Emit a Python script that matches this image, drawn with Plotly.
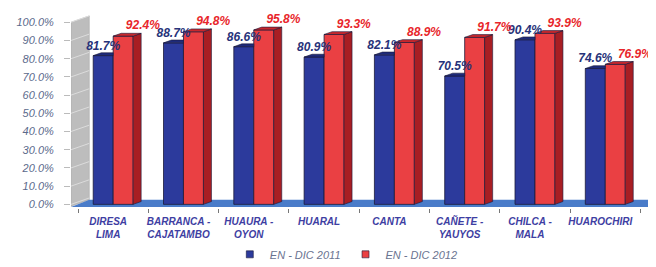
import plotly.graph_objects as go

# ---------------- data ----------------
categories = ["DIRESA<br>LIMA", "BARRANCA -<br>CAJATAMBO", "HUAURA -<br>OYON", "HUARAL",
              "CANTA", "CAÑETE -<br>YAUYOS", "CHILCA -<br>MALA", "HUAROCHIRI"]
series_2011 = [81.7, 88.7, 86.6, 80.9, 82.1, 70.5, 90.4, 74.6]
series_2012 = [92.4, 94.8, 95.8, 93.3, 88.9, 91.7, 93.9, 76.9]
series_names = ["EN - DIC 2011", "EN - DIC 2012"]
y_tick_values = [0, 10, 20, 30, 40, 50, 60, 70, 80, 90, 100]
y_tick_labels = [f"{v:.1f}%" for v in y_tick_values]

# ---------------- style / geometry ----------------
FONT = "Liberation Sans"
BW = 0.284        # bar width (x units)
DX = 0.114        # 3D depth, horizontal
DY = 1.55         # 3D depth, vertical
BLUE = "#2C3A9C"
BLUE_TOP = "#1E2A7A"
RED = "#EA4043"
RED_SIDE = "#A81E23"
RED_TOP = "#C8282D"
EDGE = "#1A1A3A"
X0, X1 = -0.6, 7.75
WALL_W = 0.26
WALL_DY = 3.5

idx = list(range(len(categories)))
blue_x = [i - BW / 2 for i in idx]
red_x = [i + BW / 2 for i in idx]

fig = go.Figure()

# front faces (bars)
fig.add_trace(go.Bar(x=blue_x, y=series_2011, width=BW, marker=dict(color=BLUE, line=dict(color=EDGE, width=0.8)),
                     showlegend=False, hoverinfo="skip"))
fig.add_trace(go.Bar(x=red_x, y=series_2012, width=BW, marker=dict(color=RED, line=dict(color=EDGE, width=0.8)),
                     showlegend=False, hoverinfo="skip"))

# blue tops (clipped at the red bar front)
bx, by = [], []
for xc, v in zip(blue_x, series_2011):
    xl, xr = xc - BW / 2, xc + BW / 2
    bx += [xl, xl + DX, xr, xr, xl, None]
    by += [v, v + DY, v + DY, v, v, None]
fig.add_trace(go.Scatter(x=bx, y=by, mode="lines", fill="toself", fillcolor=BLUE_TOP,
                         line=dict(color=EDGE, width=0.6), showlegend=False, hoverinfo="skip"))

# red sides and tops
sx, sy, tx, ty = [], [], [], []
for xc, v in zip(red_x, series_2012):
    xl, xr = xc - BW / 2, xc + BW / 2
    sx += [xr, xr + DX, xr + DX, xr, xr, None]
    sy += [0, DY, v + DY, v, 0, None]
    tx += [xl, xl + DX, xr + DX, xr, xl, None]
    ty += [v, v + DY, v + DY, v, v, None]
fig.add_trace(go.Scatter(x=sx, y=sy, mode="lines", fill="toself", fillcolor=RED_SIDE,
                         line=dict(color=EDGE, width=0.6), showlegend=False, hoverinfo="skip"))
fig.add_trace(go.Scatter(x=tx, y=ty, mode="lines", fill="toself", fillcolor=RED_TOP,
                         line=dict(color=EDGE, width=0.6), showlegend=False, hoverinfo="skip"))

# data labels
fig.add_trace(go.Scatter(x=blue_x, y=[v + 5 for v in series_2011], mode="text",
                         text=[f"{v:.1f}%" for v in series_2011],
                         textfont=dict(family=FONT, size=12, color="#27337A", weight="bold", style="italic"),
                         cliponaxis=False, showlegend=False, hoverinfo="skip"))
fig.add_trace(go.Scatter(x=[x + 0.28 for x in red_x], y=[v + 5.4 for v in series_2012], mode="text",
                         text=[f"{v:.1f}%" for v in series_2012],
                         textfont=dict(family=FONT, size=12, color="#E8262B", weight="bold", style="italic"),
                         cliponaxis=False, showlegend=False, hoverinfo="skip"))

# legend entries
for name, col in zip(series_names, [BLUE, RED]):
    fig.add_trace(go.Scatter(x=[None], y=[None], mode="markers", name=name,
                             marker=dict(symbol="square", size=7, color=col, line=dict(color=EDGE, width=0.6))))

# back wall and floor
shapes = []
wl, wr = X0, X0 + WALL_W
shapes.append(dict(type="path", xref="x", yref="y", layer="below",
                   path=f"M {wl},-1 L {wl},100 L {wr},{100 + WALL_DY} L {wr},{-1 + WALL_DY} Z",
                   fillcolor="#BDBDBD", line=dict(color="#A8A8A8", width=0.6)))
for v in y_tick_values:
    shapes.append(dict(type="line", xref="x", yref="y", layer="below",
                       x0=wl, y0=v, x1=wr, y1=v + WALL_DY, line=dict(color="#DCDCDC", width=1)))
shapes.append(dict(type="path", xref="x", yref="y", layer="below",
                   path=f"M {wl},-1.5 L 7.61,-1.5 L {X1 - 0.02},2.5 L {wr},2.5 Z",
                   fillcolor="#4A7CC9", line=dict(width=0)))

fig.update_layout(
    width=656, height=267,
    margin=dict(l=63, r=6, t=7, b=55),
    paper_bgcolor="white", plot_bgcolor="rgba(0,0,0,0)",
    barmode="overlay",
    shapes=shapes,
    font=dict(family=FONT),
    legend=dict(orientation="h", x=0.469, xanchor="center", y=-0.24, yanchor="middle",
                font=dict(family=FONT, size=11, color="#6A7390", style="italic"),
                itemwidth=30, traceorder="normal", bgcolor="rgba(0,0,0,0)"),
    xaxis=dict(range=[X0, X1], tickmode="array", tickvals=idx,
               ticktext=categories,
               tickfont=dict(family=FONT, size=10, color="#3E3EA2", weight="bold", style="italic"),
               ticks="", showgrid=False, zeroline=False, showline=False,
               ticklabelshift=-5, ticklabelstandoff=6,
               minor=dict(tickmode="linear", tick0=0.5, dtick=1, ticks="outside",
                          ticklen=4, tickcolor="#777777", showgrid=False)),
    yaxis=dict(range=[-2, 104], tickmode="array", tickvals=y_tick_values,
               ticktext=y_tick_labels,
               tickfont=dict(family=FONT, size=11, color="#5B6A8C", style="italic"),
               ticks="outside", ticklen=6, tickcolor="#BBBBBB",
               showgrid=False, zeroline=False, showline=False, ticklabelstandoff=8),
)

fig.write_html("out.html")
